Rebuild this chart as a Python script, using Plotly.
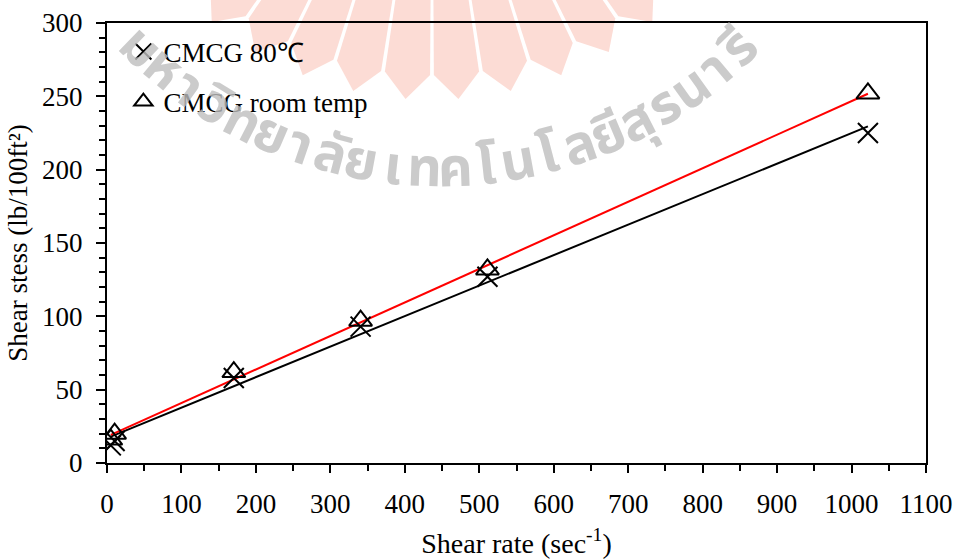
import math
import numpy as np
import plotly.graph_objects as go

# ---- data ----
shear_rate = [5.11, 10.22, 170.3, 340.6, 511, 1022]
stress_80c = [12, 15, 58, 93, 127, 225]
stress_room = [16, 20, 62, 97, 132, 252]
series_names = ["CMCG 80℃", "CMCG room temp"]
x_ticks = list(range(0, 1101, 100))
y_ticks = list(range(0, 301, 50))
watermark_text = ["ม", "ห", "า", "วิ", "ท", "ย", "า", "ลั", "ย", "เ", "ท", "ค",
                  "โ", "น", "โ", "ล", "ยี", "สุ", "ร", "น", "า", "รี"]

# ---- layout geometry (pixels) ----
W, H = 961, 559
L, R, T, B = 107, 35, 23, 96
PW, PH = W - L - R, H - T - B

def to_paper(px, py):
    return (px - L) / PW, (H - B - py) / PH

FONT = "Liberation Serif, Times New Roman, serif"

fig = go.Figure()

# fitted lines (linear regression of each series)
x_arr = np.array(shear_rate)
for ys, col in [(stress_80c, "black"), (stress_room, "red")]:
    m, c = np.polyfit(x_arr, np.array(ys), 1)
    xs = [x_arr.min(), x_arr.max()]
    fig.add_trace(go.Scatter(x=xs, y=[m * v + c for v in xs], mode="lines",
                             line=dict(color=col, width=2), showlegend=False,
                             hoverinfo="skip"))

fig.add_trace(go.Scatter(x=shear_rate, y=stress_80c, mode="markers",
                         name=series_names[0], legendgroup="a",
                         marker=dict(symbol="x-thin-open", size=20,
                                     line=dict(color="black", width=2), color="black")))
fig.add_trace(go.Scatter(x=shear_rate, y=stress_room, mode="markers",
                         name=series_names[1], legendgroup="b",
                         marker=dict(symbol="triangle-up-open", size=20,
                                     line=dict(color="black", width=2), color="black")))

# ---- watermark: red fan ----
shapes = []
cx, cy = 432, -250
n_rays = 10
for i in range(n_rays):
    phi = -39 + i * (78 / (n_rays - 1))
    hw = 4.0
    r0, r1, r2 = 150, 325, 350
    def pt(a, r):
        a = math.radians(a)
        return to_paper(cx + r * math.sin(a), cy + r * math.cos(a))
    pts = [pt(phi - hw, r0), pt(phi - hw, r1), pt(phi, r2), pt(phi + hw, r1), pt(phi + hw, r0)]
    path = "M " + " L ".join(f"{x:.4f},{y:.4f}" for x, y in pts) + " Z"
    shapes.append(dict(type="path", xref="paper", yref="paper", path=path,
                       fillcolor="#fcdcd5", line=dict(width=0), layer="below"))

# ---- watermark: curved Thai text ----
annotations = []
tcx, tcy, tr = 440, -262, 432
n = len(watermark_text)
for i, ch in enumerate(watermark_text):
    th = -44 + i * (88 / (n - 1))
    a = math.radians(th)
    px, py = tcx + tr * math.sin(a), tcy + tr * math.cos(a)
    xp, yp = to_paper(px, py)
    annotations.append(dict(text="<b>" + ch + "</b>", x=xp, y=yp, xref="paper", yref="paper",
                            showarrow=False, textangle=-th,
                            font=dict(family="Noto Sans Thai, Noto Sans, DejaVu Sans, sans-serif",
                                      size=54, color="rgba(190,190,190,0.8)"),
                            xanchor="center", yanchor="middle"))

fig.update_layout(
    width=W, height=H,
    margin=dict(l=L, r=R, t=T, b=B),
    paper_bgcolor="white", plot_bgcolor="rgba(0,0,0,0)",
    font=dict(family=FONT, color="black", size=26),
    shapes=shapes, annotations=annotations,
    legend=dict(x=0.02, y=0.99, xanchor="left", yanchor="top",
                bgcolor="rgba(0,0,0,0)", font=dict(family=FONT, size=27),
                tracegroupgap=12, traceorder="grouped", itemwidth=30),
    xaxis=dict(range=[0, 1100], tickvals=x_ticks, ticks="outside", ticklen=8,
               tickwidth=2, tickcolor="black", showline=True, linecolor="black",
               linewidth=2, mirror=True, showgrid=False, zeroline=False,
               automargin=False,
               tickfont=dict(family=FONT, size=27), ticklabelstandoff=8,
               minor=dict(dtick=50, ticks="outside", ticklen=6, tickwidth=2, tickcolor="black"),
               title=dict(text="Shear rate (sec<sup>-1</sup>)", font=dict(family=FONT, size=28),
                          standoff=18)),
    yaxis=dict(range=[0, 300], tickvals=y_ticks, ticks="outside", ticklen=9,
               tickwidth=2, tickcolor="black", showline=True, linecolor="black",
               linewidth=2, mirror=True, showgrid=False, zeroline=False,
               automargin=False,
               tickfont=dict(family=FONT, size=27), ticklabelstandoff=8,
               minor=dict(dtick=10, ticks="outside", ticklen=6, tickwidth=2, tickcolor="black"),
               title=dict(text="Shear stess (lb/100ft²)", font=dict(family=FONT, size=27),
                          standoff=7)),
)

fig.write_html("out.html")
